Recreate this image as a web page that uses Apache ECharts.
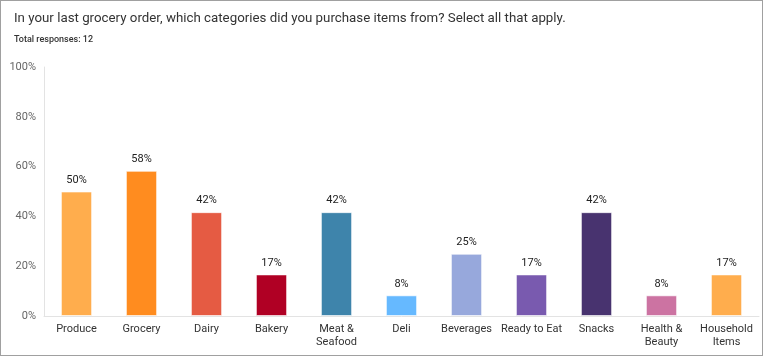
<!DOCTYPE html>
<html><head><meta charset="utf-8">
<script src="https://cdn.jsdelivr.net/npm/echarts@6/dist/echarts.min.js"></script>
<style>
html,body{margin:0;padding:0;background:#fff;}
#c{width:763px;height:356px;box-sizing:border-box;border:1px solid #a0a0a0;}
</style></head>
<body><div id="c"></div>
<script>
const categories = ["Produce","Grocery","Dairy","Bakery","Meat &\nSeafood","Deli","Beverages","Ready to Eat","Snacks","Health &\nBeauty","Household\nItems"];
const values = [50, 58.3, 41.7, 16.7, 41.7, 8.3, 25, 16.7, 41.7, 8.3, 16.7];
const colors = ["#ffad4d","#ff8c1f","#e55b43","#b00024","#3e84ab","#66b9ff","#97a8dc","#795aaf","#48336f","#cc73a2","#ffad4d"];
const yTicks = [0,20,40,60,80,100];

const chart = echarts.init(document.getElementById('c'), null, {renderer:'canvas'});
chart.setOption({
  animation:false,
  textStyle:{fontFamily:'Roboto'},
  title:[
    {text:'In your last grocery order, which categories did you purchase items from? Select all that apply.', left:8, top:6,
     textStyle:{fontFamily:'Roboto', fontSize:13.3, fontWeight:'normal', color:'#333'}},
    {text:'Total responses: 12', left:8, top:29,
     textStyle:{fontFamily:'Roboto', fontSize:9, fontWeight:500, color:'#333'}}
  ],
  grid:{left:43, right:3, top:66, bottom:39, containLabel:false},
  xAxis:{type:'category', data:categories,
    axisLine:{show:true, lineStyle:{color:'#e3e3e3', width:1}},
    axisTick:{show:false},
    axisLabel:{color:'#333', fontSize:11, fontFamily:'Roboto', margin:7, lineHeight:13, interval:0}},
  yAxis:{type:'value', min:0, max:100, interval:20,
    axisLine:{show:true, lineStyle:{color:'#e3e3e3', width:1}},
    axisTick:{show:false},
    splitLine:{show:false},
    axisLabel:{color:'#666', fontSize:11, fontFamily:'Roboto', margin:8, formatter: v => yTicks.includes(v) ? v + '%' : ''}},
  series:[{type:'bar', barWidth:'48%',
    data: values.map((v,i)=>({value:v, itemStyle:{color:colors[i], borderColor:'rgba(255,255,255,0.6)', borderWidth:1}})),
    label:{show:true, position:'top', distance:6, color:'#222', fontSize:11, fontFamily:'Roboto',
      formatter: p => Math.round(p.value) + '%'}
  }]
});
</script></body></html>
